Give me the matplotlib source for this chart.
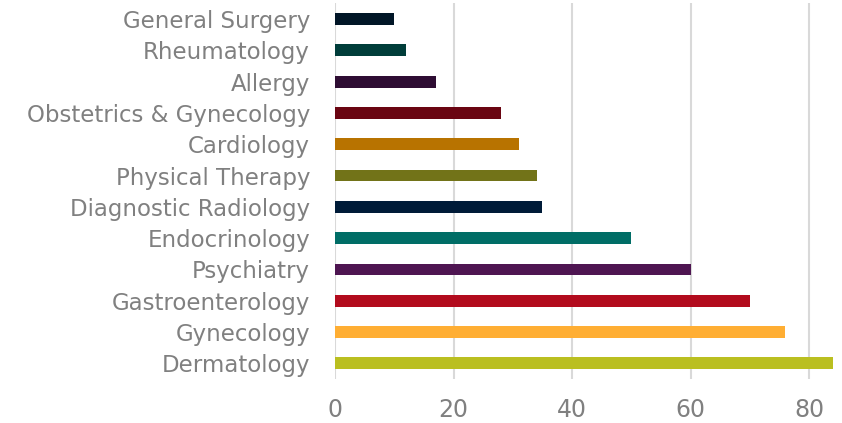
from matplotlib import pyplot as plt

specialties = ["Dermatology", "Gynecology", "Gastroenterology", "Psychiatry",
               "Endocrinology", "Diagnostic Radiology", "Physical Therapy",
               "Cardiology", "Obstetrics & Gynecology", "Allergy",
               "Rheumatology", "General Surgery"]
counts = [84, 76, 70, 60, 50, 35, 34, 31, 28, 17, 12, 10]
colors = ["#BABF20", "#FFAE33", "#B20B1D", "#4E1551", "#006D66", "#001B38",
          "#727318", "#B87300", "#6A0512", "#2E0D33", "#003D3A", "#011627"]
xticks = [0, 20, 40, 60, 80]

fig = plt.figure(figsize=(8.42, 4.23), dpi=100)
ax = fig.add_axes([0.398, 0.104, 0.591, 0.888])

ax.barh(range(len(specialties)), counts, height=0.38, color=colors, zorder=3)
ax.set_yticks(range(len(specialties)))
ax.set_yticklabels(specialties)
ax.set_xticks(xticks)
ax.set_xlim(0, 84)
ax.set_ylim(-0.5, len(specialties) - 0.5)

ax.grid(True, axis="x", color="#d9d9d9", linewidth=1.5, zorder=0)
ax.tick_params(axis="both", length=0, labelcolor="#808080")
ax.tick_params(axis="x", pad=14, labelsize=17)
ax.tick_params(axis="y", pad=18, labelsize=16.5)
for s in ax.spines.values():
    s.set_visible(False)

plt.savefig("out.png", dpi=100)
